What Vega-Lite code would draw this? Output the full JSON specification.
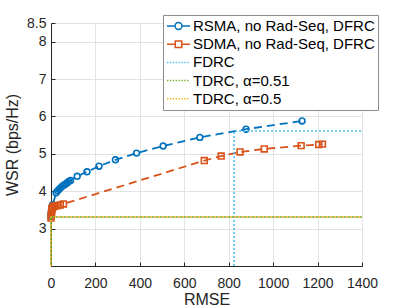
{
  "$schema": "https://vega.github.io/schema/vega-lite/v6.json",
  "width": 311,
  "height": 243,
  "autosize": {"type": "none"},
  "padding": {"left": 51, "top": 23, "right": 37, "bottom": 42},
  "background": "white",
  "config": {
    "font": "Liberation Sans",
    "view": {"stroke": "#262626", "strokeWidth": 1},
    "axis": {
      "gridColor": "#e3e3e3",
      "gridWidth": 1,
      "domainColor": "#262626",
      "tickColor": "#262626",
      "labelColor": "#262626",
      "labelFontSize": 14,
      "labelOverlap": false,
      "labelFlush": false,
      "labelExpr": "format(datum.value, '~g')",
      "titleColor": "#262626",
      "titleFontSize": 16,
      "titleFontWeight": "normal",
      "tickSize": -4
    }
  },
  "datasets": {
    "d": [
      {"series": "RSMA, no Rad-Seq, DFRC", "i": 1, "x": 0, "y": 3.36},
      {"series": "RSMA, no Rad-Seq, DFRC", "i": 2, "x": 1, "y": 3.42},
      {"series": "RSMA, no Rad-Seq, DFRC", "i": 3, "x": 2, "y": 3.48},
      {"series": "RSMA, no Rad-Seq, DFRC", "i": 4, "x": 3, "y": 3.53},
      {"series": "RSMA, no Rad-Seq, DFRC", "i": 5, "x": 4, "y": 3.57},
      {"series": "RSMA, no Rad-Seq, DFRC", "i": 6, "x": 6, "y": 3.61},
      {"series": "RSMA, no Rad-Seq, DFRC", "i": 7, "x": 8, "y": 3.64},
      {"series": "RSMA, no Rad-Seq, DFRC", "i": 8, "x": 23, "y": 3.96},
      {"series": "RSMA, no Rad-Seq, DFRC", "i": 9, "x": 30, "y": 4.01},
      {"series": "RSMA, no Rad-Seq, DFRC", "i": 10, "x": 36, "y": 4.05},
      {"series": "RSMA, no Rad-Seq, DFRC", "i": 11, "x": 43, "y": 4.09},
      {"series": "RSMA, no Rad-Seq, DFRC", "i": 12, "x": 50, "y": 4.13},
      {"series": "RSMA, no Rad-Seq, DFRC", "i": 13, "x": 57, "y": 4.16},
      {"series": "RSMA, no Rad-Seq, DFRC", "i": 14, "x": 64, "y": 4.19},
      {"series": "RSMA, no Rad-Seq, DFRC", "i": 15, "x": 72, "y": 4.22},
      {"series": "RSMA, no Rad-Seq, DFRC", "i": 16, "x": 80, "y": 4.26},
      {"series": "RSMA, no Rad-Seq, DFRC", "i": 17, "x": 88, "y": 4.29},
      {"series": "RSMA, no Rad-Seq, DFRC", "i": 18, "x": 118, "y": 4.40},
      {"series": "RSMA, no Rad-Seq, DFRC", "i": 19, "x": 162, "y": 4.52},
      {"series": "RSMA, no Rad-Seq, DFRC", "i": 20, "x": 216, "y": 4.67},
      {"series": "RSMA, no Rad-Seq, DFRC", "i": 21, "x": 290, "y": 4.84},
      {"series": "RSMA, no Rad-Seq, DFRC", "i": 22, "x": 385, "y": 5.02},
      {"series": "RSMA, no Rad-Seq, DFRC", "i": 23, "x": 505, "y": 5.21},
      {"series": "RSMA, no Rad-Seq, DFRC", "i": 24, "x": 670, "y": 5.44},
      {"series": "RSMA, no Rad-Seq, DFRC", "i": 25, "x": 878, "y": 5.66},
      {"series": "RSMA, no Rad-Seq, DFRC", "i": 26, "x": 1130, "y": 5.88},
      {"series": "SDMA, no Rad-Seq, DFRC", "i": 1, "x": 0, "y": 3.28},
      {"series": "SDMA, no Rad-Seq, DFRC", "i": 2, "x": 1, "y": 3.33},
      {"series": "SDMA, no Rad-Seq, DFRC", "i": 3, "x": 2, "y": 3.40},
      {"series": "SDMA, no Rad-Seq, DFRC", "i": 4, "x": 3, "y": 3.46},
      {"series": "SDMA, no Rad-Seq, DFRC", "i": 5, "x": 4, "y": 3.51},
      {"series": "SDMA, no Rad-Seq, DFRC", "i": 6, "x": 6, "y": 3.55},
      {"series": "SDMA, no Rad-Seq, DFRC", "i": 7, "x": 9, "y": 3.58},
      {"series": "SDMA, no Rad-Seq, DFRC", "i": 8, "x": 13, "y": 3.60},
      {"series": "SDMA, no Rad-Seq, DFRC", "i": 9, "x": 20, "y": 3.61},
      {"series": "SDMA, no Rad-Seq, DFRC", "i": 10, "x": 30, "y": 3.62},
      {"series": "SDMA, no Rad-Seq, DFRC", "i": 11, "x": 42, "y": 3.63},
      {"series": "SDMA, no Rad-Seq, DFRC", "i": 12, "x": 56, "y": 3.66},
      {"series": "SDMA, no Rad-Seq, DFRC", "i": 13, "x": 690, "y": 4.82},
      {"series": "SDMA, no Rad-Seq, DFRC", "i": 14, "x": 766, "y": 4.94},
      {"series": "SDMA, no Rad-Seq, DFRC", "i": 15, "x": 851, "y": 5.05},
      {"series": "SDMA, no Rad-Seq, DFRC", "i": 16, "x": 960, "y": 5.13},
      {"series": "SDMA, no Rad-Seq, DFRC", "i": 17, "x": 1126, "y": 5.22},
      {"series": "SDMA, no Rad-Seq, DFRC", "i": 18, "x": 1205, "y": 5.25},
      {"series": "SDMA, no Rad-Seq, DFRC", "i": 19, "x": 1222, "y": 5.26},
      {"series": "FDRC", "i": 1, "x": 824, "y": 2},
      {"series": "FDRC", "i": 2, "x": 824, "y": 5.61},
      {"series": "FDRC", "i": 3, "x": 1400, "y": 5.61},
      {"series": "TDRC, α=0.51", "i": 1, "x": 0, "y": 2},
      {"series": "TDRC, α=0.51", "i": 2, "x": 0, "y": 3.31},
      {"series": "TDRC, α=0.51", "i": 3, "x": 1400, "y": 3.31},
      {"series": "TDRC, α=0.5", "i": 1, "x": 0, "y": 2},
      {"series": "TDRC, α=0.5", "i": 2, "x": 0, "y": 3.31},
      {"series": "TDRC, α=0.5", "i": 3, "x": 1400, "y": 3.31}
    ]
  },
  "data": {"name": "d"},
  "encoding": {
    "x": {
      "field": "x", "type": "quantitative",
      "scale": {"domain": [0, 1400], "nice": false, "zero": false},
      "axis": {"title": "RMSE", "values": [0, 200, 400, 600, 800, 1000, 1200, 1400], "labelPadding": 14, "titlePadding": 1}
    },
    "y": {
      "field": "y", "type": "quantitative",
      "scale": {"domain": [2, 8.5], "nice": false, "zero": false},
      "axis": {"title": "WSR (bps/Hz)", "values": [3, 4, 5, 6, 7, 8, 8.5], "labelPadding": 9, "titlePadding": 6}
    },
    "color": {
      "field": "series", "type": "nominal",
      "scale": {
        "domain": ["RSMA, no Rad-Seq, DFRC", "SDMA, no Rad-Seq, DFRC", "FDRC", "TDRC, α=0.51", "TDRC, α=0.5"],
        "range": ["#0072BD", "#D95319", "#4DBEEE", "#77AC30", "#EDB120"]
      },
      "legend": {
        "orient": "none", "legendX": 112, "legendY": -8, "title": null,
        "fillColor": "white", "strokeColor": "#8c8c8c", "padding": 3,
        "labelFontSize": 15, "labelFont": "Liberation Sans", "labelColor": "#000000", "labelLimit": 400,
        "symbolSize": 529, "symbolStrokeWidth": 1.5, "labelOffset": 2,
        "rowPadding": 2.2, "clipHeight": 16,
        "encode": {
          "symbols": {
            "update": {
              "shape": {"signal": "indexof(datum.value, 'RSMA') >= 0 ? 'M-1,0H-0.3M0.3,0H1M0.3,0A0.3,0.3 0 1 1 -0.3,0A0.3,0.3 0 1 1 0.3,0' : indexof(datum.value, 'SDMA') >= 0 ? 'M-1,0H-0.28M0.28,0H1M-0.28,-0.28H0.28V0.28H-0.28Z' : 'M-1,0h0.12M-0.75,0h0.12M-0.5,0h0.12M-0.25,0h0.12M0,0h0.12M0.25,0h0.12M0.5,0h0.12M0.75,0h0.12'"},
              "fill": {"value": "transparent"},
              "strokeDash": {"value": []}
            }
          }
        }
      }
    }
  },
  "layer": [
    {
      "transform": [{"filter": "indexof(datum.series, 'MA,') >= 0"}],
      "mark": {"type": "line", "strokeWidth": 1.8, "strokeDash": [8, 5]},
      "encoding": {"order": {"field": "i", "type": "quantitative"}}
    },
    {
      "transform": [{"filter": "indexof(datum.series, 'RSMA') >= 0"}],
      "mark": {"type": "point", "shape": "circle", "filled": false, "size": 34, "strokeWidth": 1.6, "opacity": 1}
    },
    {
      "transform": [{"filter": "indexof(datum.series, 'SDMA') >= 0"}],
      "mark": {"type": "point", "shape": "square", "filled": false, "size": 34, "strokeWidth": 1.6, "opacity": 1}
    },
    {
      "transform": [{"filter": "datum.series == 'FDRC'"}],
      "mark": {"type": "line", "strokeWidth": 1.6, "strokeDash": [2, 2]},
      "encoding": {"order": {"field": "i", "type": "quantitative"}}
    },
    {
      "transform": [{"filter": "datum.series == 'TDRC, α=0.51'"}],
      "mark": {"type": "line", "strokeWidth": 1.6, "strokeDash": [2, 2], "strokeDashOffset": 2},
      "encoding": {"order": {"field": "i", "type": "quantitative"}}
    },
    {
      "transform": [{"filter": "datum.series == 'TDRC, α=0.5'"}],
      "mark": {"type": "line", "strokeWidth": 1.6, "strokeDash": [2, 2]},
      "encoding": {"order": {"field": "i", "type": "quantitative"}}
    }
  ]
}
